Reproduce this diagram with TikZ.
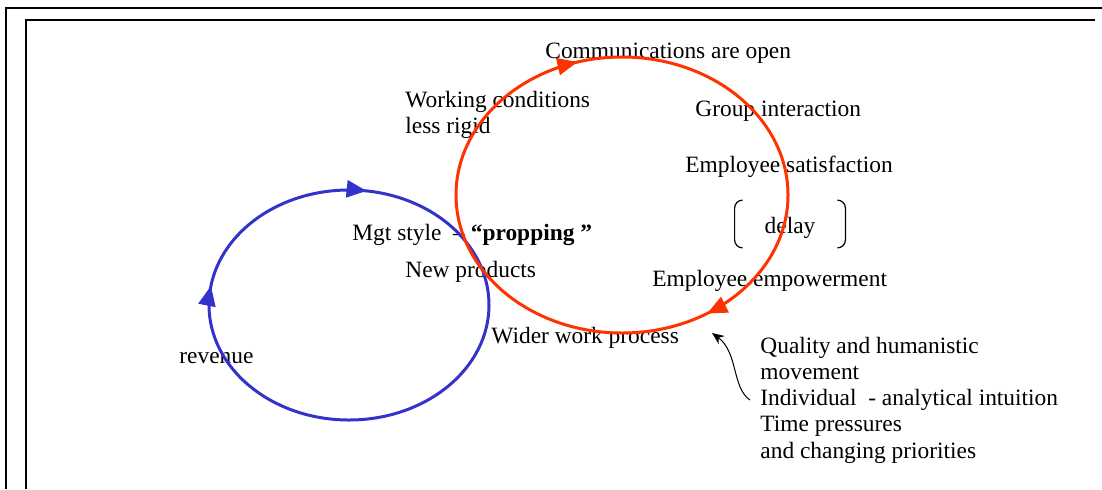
\documentclass[tikz,border=0pt]{standalone}
\usepackage{fontspec}
\setmainfont{Liberation Serif}
\usetikzlibrary{arrows.meta,decorations.markings}
\definecolor{loopblue}{RGB}{51,51,204}
\definecolor{loopred}{RGB}{255,51,0}

\begin{document}
\begin{tikzpicture}[x=0.5pt,y=-0.5pt,font=\fontsize{11.7}{13.15}\selectfont,
    lbl/.style={anchor=west,inner sep=0pt},
    loopline/.style={line width=1.5pt,postaction={decorate}},
    looptip/.tip={Triangle[length=10pt,width=8.5pt]}]
        \useasboundingbox (0,0) rectangle (1102,489);
        % frame
        \draw[line width=1pt] (6,489) -- (6,8) -- (1102,8);
        \draw[line width=0.7pt] (26,489) -- (26,20) -- (1095,20);
        % labels
        \node[lbl] (comm) at (545,53) {Communications are open};
        \node[lbl,align=left] (work) at (405,115) {Working conditions\\less rigid};
        \node[lbl] (group) at (695,111) {Group interaction};
        \node[lbl] (satis) at (685,167) {Employee satisfaction};
        \node[minimum width=55pt,minimum height=23.5pt,inner sep=0pt,text height=9pt,text depth=0pt] (delay) at (790,224) {delay};
        \draw[line width=0.6pt,rounded corners=4pt] ([xshift=4pt]delay.north west) -- (delay.north west) -- (delay.south west) -- ([xshift=4pt]delay.south west);
        \draw[line width=0.6pt,rounded corners=4pt] ([xshift=-4pt]delay.north east) -- (delay.north east) -- (delay.south east) -- ([xshift=-4pt]delay.south east);
        \node[lbl] (mgt) at (352,235) {Mgt style \ – \textbf{“propping ”}};
        \node[lbl] (prod) at (405,272) {New products};
        \node[lbl] (empow) at (652,281) {Employee empowerment};
        \node[lbl] (wider) at (491,338) {Wider work process};
        \node[lbl] (rev) at (179,358) {revenue};
        \node[lbl,inner xsep=5pt,align=left] (factors) at (750,400) {Quality and humanistic\\movement\\Individual \ - analytical intuition\\Time pressures\\and changing priorities};
        % loops
        \draw[loopline,loopblue,decoration={markings,
            mark=at position 0.524 with {\arrow{looptip}},
            mark=at position 0.772 with {\arrow{looptip}}}]
            (349,305) ellipse [x radius=140,y radius=115];
        \draw[loopline,loopred,decoration={markings,
            mark=at position 0.158 with {\arrow{looptip}},
            mark=at position 0.703 with {\arrow{looptip}}}]
            (622,195) ellipse [x radius=166,y radius=138];
        % influence
        \coordinate (hit) at (712,333);
        \draw[line width=0.5pt,-{Stealth[length=6pt,width=5pt]}] (factors.west) .. controls (732,388) and (738,352) .. (hit);
\end{tikzpicture}
\end{document}
